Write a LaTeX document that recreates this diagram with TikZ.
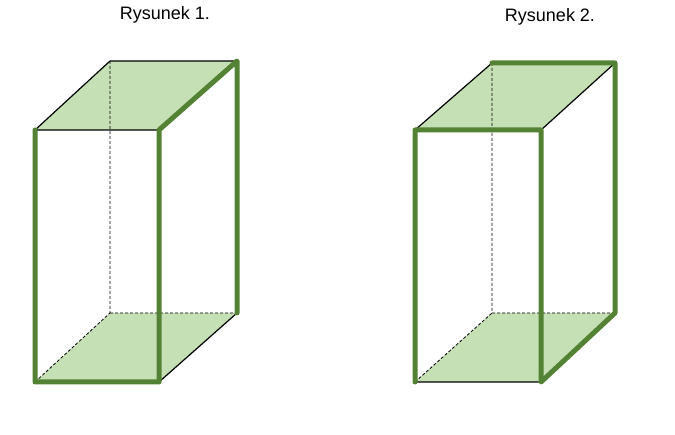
\documentclass[tikz,border=0pt]{standalone}
\usepackage{fontspec}
\setmainfont{Liberation Sans}
\definecolor{gline}{RGB}{84,130,53}
\definecolor{gfill}{RGB}{197,224,180}
\begin{document}
\begin{tikzpicture}[x=1pt,y=-1pt,
  thin edge/.style={black,line width=1.2pt},
  hid/.style={black,line width=0.8pt,dash pattern=on 3pt off 2pt},
  thick edge/.style={gline,line width=5pt,line cap=round,line join=round},
  face/.style={fill=gfill,draw=none},
  lab/.style={font=\fontsize{18}{20}\selectfont,inner sep=0pt}]
\useasboundingbox (0,0) rectangle (675,435);
% Figure 1
\coordinate (a1) at (35,130); \coordinate (b1) at (159,130);
\coordinate (c1) at (159,382); \coordinate (d1) at (35,382);
\coordinate (e1) at (110,61); \coordinate (f1) at (237,61);
\coordinate (g1) at (237,313); \coordinate (h1) at (110,313);
\fill[face] (a1)--(b1)--(f1)--(e1)--cycle;
\fill[face] (d1)--(c1)--(g1)--(h1)--cycle;
\draw[hid] (e1)--(h1) (h1)--(g1) (d1)--(h1);
\draw[thin edge] (a1)--(b1) (a1)--(e1) (e1)--(f1) (c1)--(g1);
\draw[thick edge] (a1)--(d1)--(c1)--(b1)--(f1)--(g1);
\node[lab] (t1) at (165,15) {Rysunek 1.};
% Figure 2
\coordinate (a2) at (415,130); \coordinate (b2) at (541,130);
\coordinate (c2) at (541,382); \coordinate (d2) at (415,382);
\coordinate (e2) at (492,63); \coordinate (f2) at (615,63);
\coordinate (g2) at (615,313); \coordinate (h2) at (492,313);
\fill[face] (a2)--(b2)--(f2)--(e2)--cycle;
\fill[face] (d2)--(c2)--(g2)--(h2)--cycle;
\draw[hid] (e2)--(h2) (h2)--(g2) (d2)--(h2);
\draw[thin edge] (a2)--(e2) (b2)--(f2) (d2)--(c2);
\draw[thick edge] (e2)--(f2)--(g2) (d2)--(a2)--(b2)--(c2)--(g2);
\node[lab] (t2) at (550,17) {Rysunek 2.};
\end{tikzpicture}
\end{document}
